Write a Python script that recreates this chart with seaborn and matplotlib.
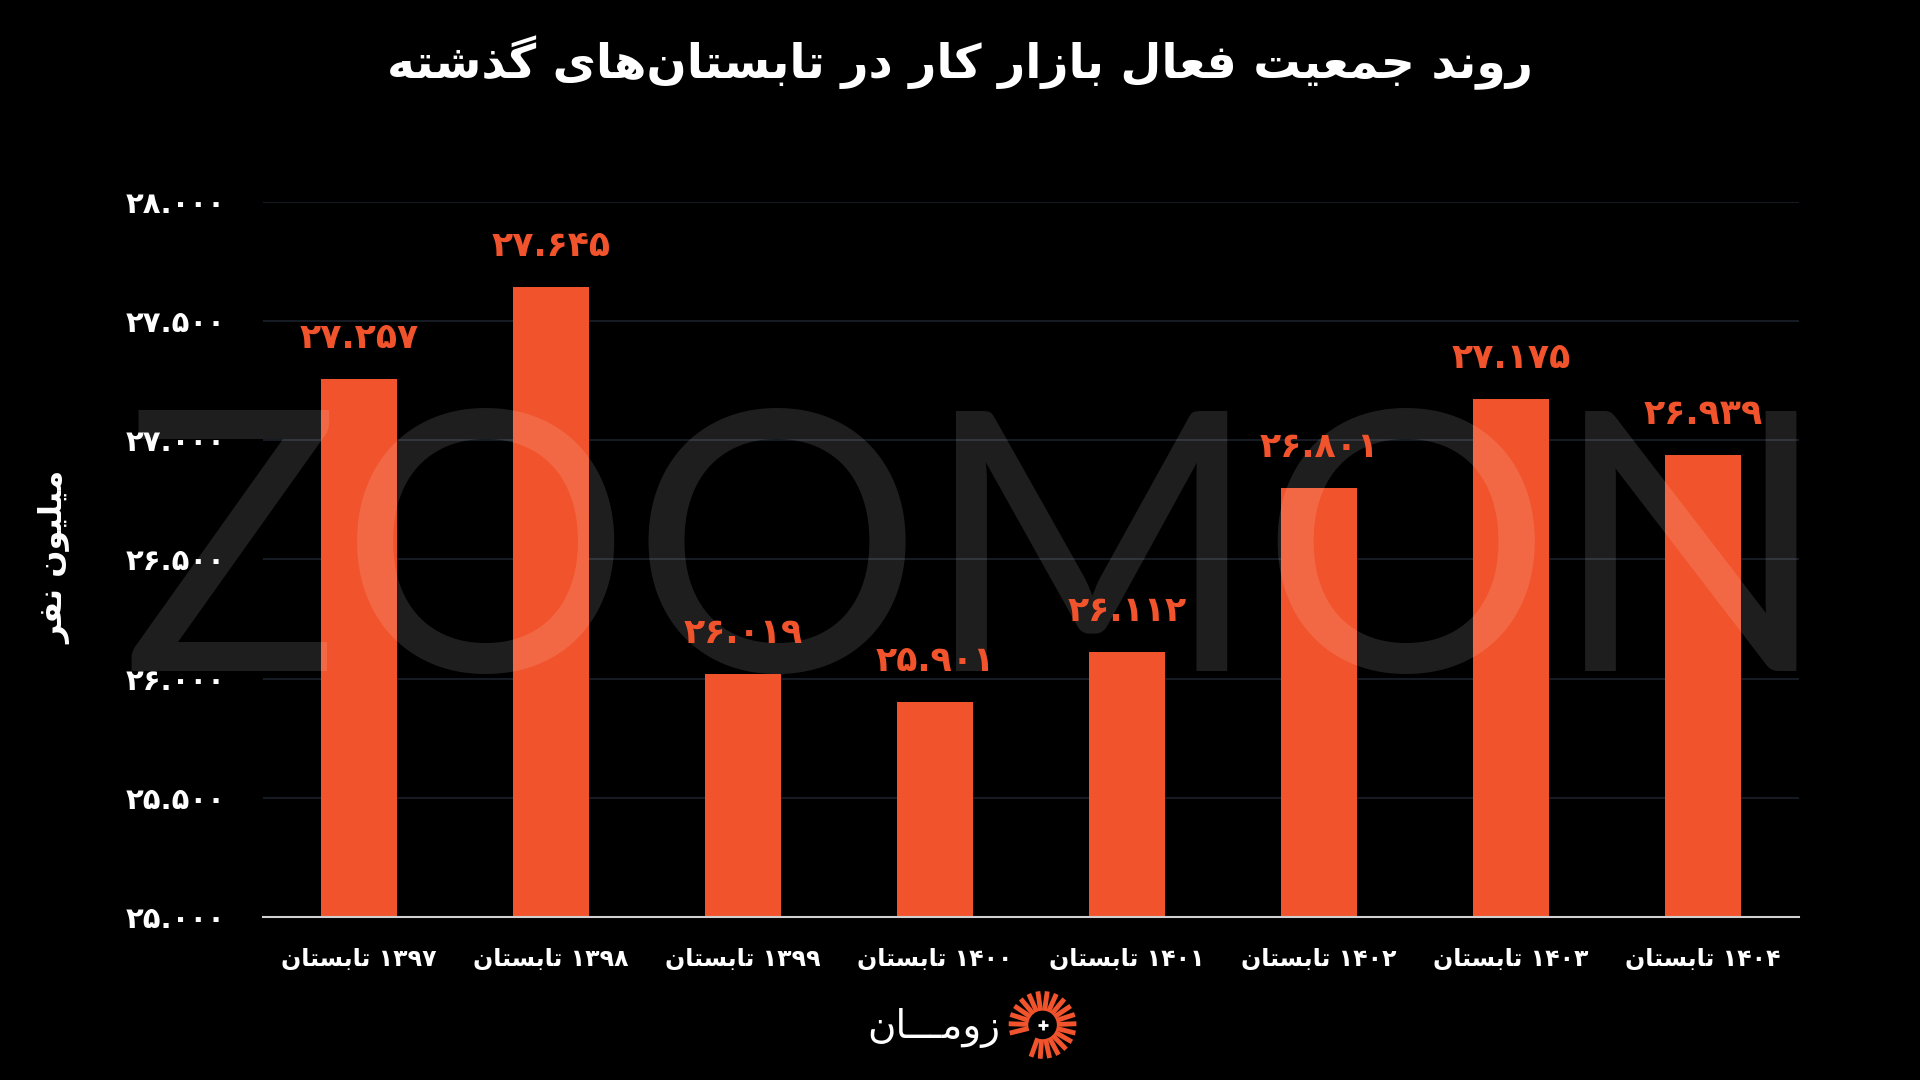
"""
روند جمعیت فعال بازار کار - تابستان
"""

import numpy as np
import pandas as pd
import seaborn as sns
import matplotlib.pyplot as plt

title = "روند جمعیت فعال بازار کار در تابستان‌های گذشته"
ylabel = "میلیون نفر"
years = ["۱۳۹۷", "۱۳۹۸", "۱۳۹۹", "۱۴۰۰", "۱۴۰۱", "۱۴۰۲", "۱۴۰۳", "۱۴۰۴"]
season = "تابستان"
values = [27.257, 27.645, 26.019, 25.901, 26.112, 26.801, 27.175, 26.939]
yticks = [25.0, 25.5, 26.0, 26.5, 27.0, 27.5, 28.0]
brand = "زومـــان"
watermark = "ZOOMON"

# شکل‌دهی حروف فارسی (matplotlib خودش این کار را نمی‌کند)
FORMS = {
    "ا": ("\uFE8D", "\uFE8E"), "د": ("\uFEA9", "\uFEAA"), "ذ": ("\uFEAB", "\uFEAC"),
    "ر": ("\uFEAD", "\uFEAE"), "ز": ("\uFEAF", "\uFEB0"), "و": ("\uFEED", "\uFEEE"),
    "ب": ("\uFE8F", "\uFE90", "\uFE91", "\uFE92"), "ت": ("\uFE95", "\uFE96", "\uFE97", "\uFE98"),
    "ج": ("\uFE9D", "\uFE9E", "\uFE9F", "\uFEA0"), "س": ("\uFEB1", "\uFEB2", "\uFEB3", "\uFEB4"),
    "ش": ("\uFEB5", "\uFEB6", "\uFEB7", "\uFEB8"), "ع": ("\uFEC9", "\uFECA", "\uFECB", "\uFECC"),
    "ف": ("\uFED1", "\uFED2", "\uFED3", "\uFED4"), "ل": ("\uFEDD", "\uFEDE", "\uFEDF", "\uFEE0"),
    "م": ("\uFEE1", "\uFEE2", "\uFEE3", "\uFEE4"), "ن": ("\uFEE5", "\uFEE6", "\uFEE7", "\uFEE8"),
    "ه": ("\uFEE9", "\uFEEA", "\uFEEB", "\uFEEC"), "ی": ("\uFBFC", "\uFBFD", "\uFBFE", "\uFBFF"),
    "ک": ("\uFB8E", "\uFB8F", "\uFB90", "\uFB91"), "گ": ("\uFB92", "\uFB93", "\uFB94", "\uFB95"),
    "ـ": ("ـ", "ـ", "ـ", "ـ"),
}


def shape_word(w):
    out = []
    for i, c in enumerate(w):
        if c not in FORMS:
            if c != "\u200c":
                out.append(c)
            continue
        prev = w[i - 1] if i > 0 else None
        nxt = w[i + 1] if i + 1 < len(w) else None
        pj = prev in FORMS and len(FORMS[prev]) == 4
        nj = len(FORMS[c]) == 4 and nxt in FORMS
        f = FORMS[c]
        if pj and nj:
            out.append(f[3])
        elif pj:
            out.append(f[1])
        elif nj:
            out.append(f[2])
        else:
            out.append(f[0])
    return "".join(out[::-1])


def fa(text):
    toks = []
    for t in text.split(" "):
        if all(ch in "۰۱۲۳۴۵۶۷۸۹." for ch in t):
            toks.append(t)
        else:
            toks.append(shape_word(t))
    return " ".join(toks[::-1])


def fa_num(v):
    s = f"{v:.3f}"
    return s.translate(str.maketrans("0123456789", "۰۱۲۳۴۵۶۷۸۹"))


sns.set_theme(style="dark")
plt.rcParams["font.family"] = ["DejaVu Sans"]

orange = "#F1542C"
df = pd.DataFrame({"year": years, "value": values})

fig = plt.figure(figsize=(19.2, 10.8), dpi=100, facecolor="black")
ax = fig.add_axes([0.137, 0.151, 0.800, 0.662])
ax.set_facecolor("black")

sns.barplot(data=df, x="year", y="value", color=orange, width=0.4, saturation=1,
            edgecolor="none", linewidth=0, ax=ax, zorder=3)

# واترمارک نیمه‌شفاف روی ستون‌ها
ax.text(0.508, 0.379, watermark, transform=fig.transFigure, ha="center", va="baseline",
        fontsize=262, color="white", alpha=0.12, family="Lato", zorder=4)

ax.set_ylim(25, 28)
ax.set_xlim(-0.5, 7.5)
ax.set_yticks(yticks)
ax.set_yticklabels([fa_num(t) for t in yticks], color="white", fontsize=21, fontweight="bold")
ax.set_xticks(range(len(years)))
ax.set_xticklabels([fa(y + " " + season) for y in years], color="white",
                   fontsize=17, fontweight="bold")
ax.tick_params(axis="y", pad=27, length=0)
ax.tick_params(axis="x", pad=22, length=0)
ax.set_xlabel("")
ax.set_ylabel("")

ax.grid(axis="y", color="#1b2029", linewidth=1.2, zorder=1)
ax.grid(axis="x", visible=False)
ax.set_axisbelow(True)
for s in ["top", "right", "left"]:
    ax.spines[s].set_visible(False)
ax.spines["bottom"].set_color("#d0d0d0")
ax.spines["bottom"].set_linewidth(1.5)
ax.spines["bottom"].set_zorder(5)

for i, v in enumerate(values):
    ax.text(i, v + 0.1, fa_num(v), ha="center", va="bottom", color=orange,
            fontsize=25, fontweight="bold", zorder=5)

fig.text(0.5, 0.942, fa(title), ha="center", va="center", color="white",
         fontsize=34, fontweight="bold")
fig.text(0.029, 0.484, fa(ylabel), ha="center", va="center", rotation=90,
         color="white", fontsize=23, fontweight="bold")

# لوگو
fig.text(0.521, 0.048, fa(brand), ha="right", va="center", color="white", fontsize=28)
lx = fig.add_axes([0.524, 0.018, 0.038, 0.066])
lx.set_xlim(-1, 1)
lx.set_ylim(-1, 1)
lx.set_aspect("equal")
lx.axis("off")
for a in np.arange(-110, 200, 16):
    r = np.deg2rad(a)
    lx.plot([0.4 * np.cos(r), 0.95 * np.cos(r)], [0.4 * np.sin(r), 0.95 * np.sin(r)],
            color=orange, linewidth=3.5, solid_capstyle="butt")
lx.plot(0, 0, marker="+", color="white", markersize=7, mew=2)

fig.savefig("out.png", dpi=100, facecolor="black")
